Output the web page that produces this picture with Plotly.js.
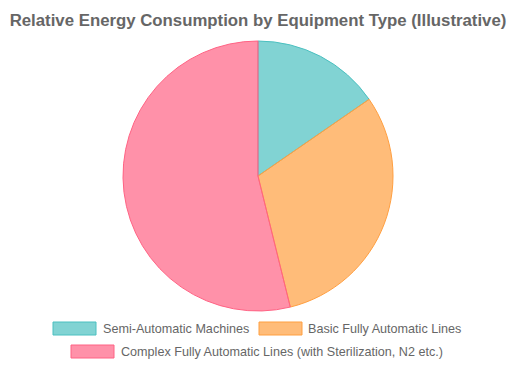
<!DOCTYPE html>
<html>
<head>
<meta charset="utf-8">
<script src="https://cdn.plot.ly/plotly-3.0.1.min.js"></script>
<style>html,body{margin:0;padding:0;background:#fff;}#chart{width:516px;height:369px;}</style>
</head>
<body>
<div id="chart"></div>
<script>
var categories = ["Semi-Automatic Machines", "Basic Fully Automatic Lines", "Complex Fully Automatic Lines (with Sterilization, N2 etc.)"];
var values = [2, 4, 7];
var fillColors = ["rgba(75,192,192,0.7)", "rgba(255,159,64,0.7)", "rgba(255,99,132,0.7)"];
var borderColors = ["rgb(75,192,192)", "rgb(255,159,64)", "rgb(255,99,132)"];
var titleText = "Relative Energy Consumption by Equipment Type (Illustrative)";

var W = 516, H = 369;
var FONT = "Liberation Sans, Arial, Helvetica, sans-serif";

var trace = {
  type: "pie",
  labels: categories,
  values: values,
  sort: false,
  direction: "clockwise",
  rotation: 0,
  textinfo: "none",
  hoverinfo: "label+value",
  marker: { colors: fillColors, line: { color: borderColors, width: 1 } },
  domain: { x: [0, 1], y: [1 - 311 / H, 1 - 41 / H] },
  showlegend: false
};

// custom Chart.js-style legend
var legendPos = [
  { bx: 53, by: 322, tx: 101 },
  { bx: 259, by: 322, tx: 306 },
  { bx: 71, by: 345, tx: 119 }
];
var shapes = [], annotations = [];
categories.forEach(function (c, i) {
  var p = legendPos[i];
  shapes.push({
    type: "rect", xref: "paper", yref: "paper",
    x0: p.bx / W, x1: (p.bx + 43) / W,
    y0: 1 - (p.by + 13) / H, y1: 1 - p.by / H,
    fillcolor: fillColors[i], line: { color: borderColors[i], width: 1 }
  });
  annotations.push({
    xref: "paper", yref: "paper", x: p.tx / W, y: 1 - (p.by + 6.5) / H,
    xanchor: "left", yanchor: "middle", showarrow: false,
    text: c, font: { family: FONT, size: 12.6, color: "#666666" }
  });
});

var layout = {
  width: W, height: H,
  margin: { l: 0, r: 0, t: 0, b: 0 },
  paper_bgcolor: "#ffffff",
  title: {
    text: "<b>" + titleText + "</b>",
    x: 0.5, xanchor: "center", y: 1 - 20 / H, yanchor: "middle",
    font: { family: FONT, size: 16.8, color: "#666666" }
  },
  shapes: shapes,
  annotations: annotations
};

Plotly.newPlot("chart", [trace], layout, { displayModeBar: false, staticPlot: true });
</script>
</body>
</html>
